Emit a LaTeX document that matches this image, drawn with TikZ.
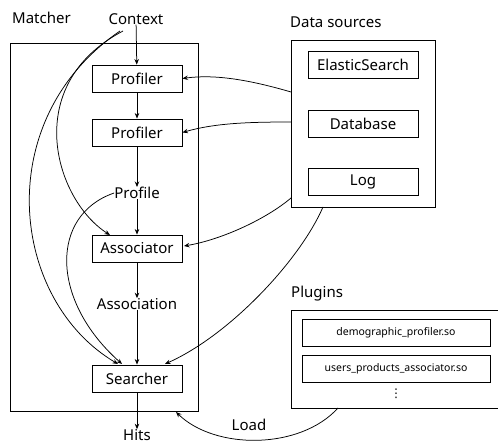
\documentclass[tikz,border=0pt]{standalone}
\usepackage{fontspec}
\setmainfont{Noto Sans}
\newfontfamily\dejavu{DejaVu Sans}
\usetikzlibrary{arrows.meta}
\begin{document}
\begin{tikzpicture}[x=1pt,y=-1pt,
  every node/.style={font=\fontsize{15}{17}\selectfont},
  box/.style={draw,line width=0.9pt,minimum width=90pt,minimum height=27pt,inner sep=0pt},
  srcbox/.style={draw,line width=0.9pt,minimum width=110pt,minimum height=27pt,inner sep=0pt},
  plugbox/.style={draw,line width=0.9pt,minimum width=188pt,minimum height=27pt,inner sep=0pt,font=\fontsize{10.5}{12}\selectfont},
  frame/.style={draw,line width=0.9pt},
  lbl/.style={inner sep=0pt},
  arr/.style={line width=0.75pt,-{Stealth[length=5.5pt,width=4.5pt]}}]
\useasboundingbox (0,0) rectangle (498,444);
% frames
\node[frame,minimum width=188pt,minimum height=368pt,inner sep=0pt,anchor=north west] (matcher) at (10,43) {};
\node[frame,minimum width=144pt,minimum height=167pt,inner sep=0pt,anchor=north west] (data) at (291,40) {};
\node[frame,minimum width=212pt,minimum height=98pt,inner sep=0pt,anchor=north west] (plugins) at (291,310) {};
% titles
\node[lbl,anchor=west] (tmatcher) at (12,18) {Matcher};
\node[lbl,anchor=west] (tdata) at (290,22) {Data sources};
\node[lbl,anchor=west] (tplugins) at (291,294) {Plugins};
% matcher flow
\node[lbl] (context) at (136,19) {Context};
\node[box] (prof1) at (137,78.5) {Profiler};
\node[box] (prof2) at (137,132.5) {Profiler};
\node[lbl] (profile) at (137,193) {Profile};
\node[box] (assoc) at (137,248.5) {Associator};
\node[lbl] (association) at (137,304) {Association};
\node[box] (search) at (137,378.5) {Searcher};
\node[lbl] (hits) at (137,435) {Hits};
% data sources
\node[srcbox] (es) at (363,65) {ElasticSearch};
\node[srcbox] (db) at (363,123.5) {Database};
\node[srcbox] (log) at (363,181.5) {Log};
% plugins
\node[plugbox] (demo) at (396,333) {demographic\_profiler.so};
\node[plugbox] (users) at (396,368.5) {users\_products\_associator.so};
\node[lbl,font=\dejavu\fontsize{12}{13}\selectfont] (dots) at (396,394) {⋮};
\node[lbl] (load) at (249,425) {Load};
% straight arrows
\draw[arr] (context) -- (prof1);
\draw[arr] (prof1) -- (prof2);
\draw[arr] (prof2) -- (profile);
\draw[arr] (profile) -- (assoc);
\draw[arr] (assoc) -- (association);
\draw[arr] (association) -- (search);
\draw[arr] (search) -- (hits);
% curved arrows in matcher
\coordinate (c1) at (123,31);
\coordinate (c2) at (120,31);
\coordinate (a1) at (110,235);
\coordinate (s1) at (118,364);
\coordinate (s2) at (122,364);
\draw[arr] (c1) .. controls (20,85) and (55,200) .. (a1);
\draw[arr] (c2) .. controls (-10,120) and (10,300) .. (s1);
\draw[arr] (profile.west) .. controls (50,215) and (50,300) .. (s2);
% data sources arrows
\coordinate (d1) at (291,92);
\coordinate (d2) at (291,122);
\coordinate (d3) at (291,198);
\coordinate (d4) at (323,207);
\coordinate (a2) at (184,246);
\coordinate (s3) at (165,364);
\draw[arr] (d1) .. controls (250,80) and (215,74) .. (prof1.east);
\draw[arr] (d2) .. controls (250,122) and (215,123) .. (prof2.east);
\draw[arr] (d3) .. controls (265,220) and (220,240) .. (a2);
\draw[arr] (d4) .. controls (300,260) and (230,335) .. (s3);
% load
\coordinate (p1) at (338,408);
\coordinate (m1) at (176,412);
\draw[arr] (p1) .. controls (300,450) and (215,450) .. (m1);
\end{tikzpicture}
\end{document}
